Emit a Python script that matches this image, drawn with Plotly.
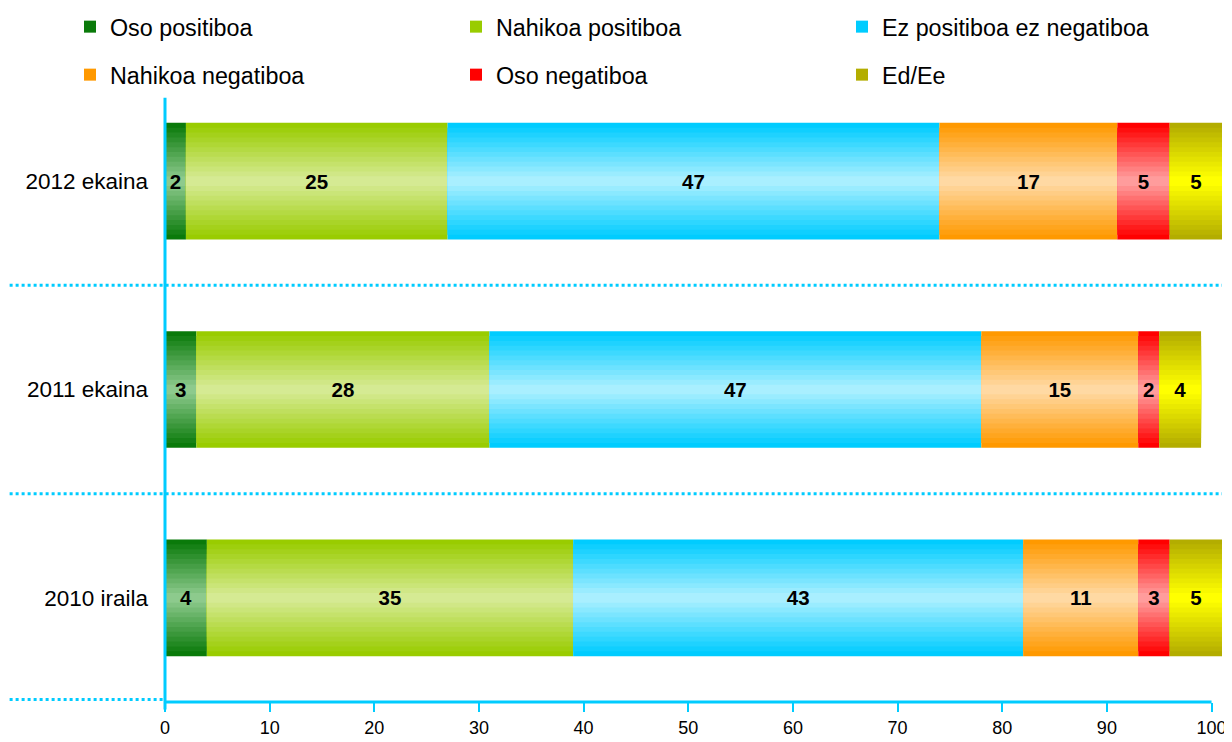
import numpy as np
import plotly.graph_objects as go

# ---------------- data ----------------
categories = ["2012 ekaina", "2011 ekaina", "2010 iraila"]
series_names = ["Oso positiboa", "Nahikoa positiboa", "Ez positiboa ez negatiboa",
                "Nahikoa negatiboa", "Oso negatiboa", "Ed/Ee"]
oso_positiboa = [2, 3, 4]
nahikoa_positiboa = [25, 28, 35]
ez_positiboa_ez_negatiboa = [47, 47, 43]
nahikoa_negatiboa = [17, 15, 11]
oso_negatiboa = [5, 2, 3]
ed_ee = [5, 4, 5]
x_ticks = [0, 10, 20, 30, 40, 50, 60, 70, 80, 90, 100]

series_values = [oso_positiboa, nahikoa_positiboa, ez_positiboa_ez_negatiboa,
                 nahikoa_negatiboa, oso_negatiboa, ed_ee]

# ---------------- style ----------------
# (edge colour, centre colour) for the vertical gradient of each series
gradients = [
    ("#0A7A0A", "#8DCA8D"),
    ("#99CC00", "#D5EA93"),
    ("#00CCFF", "#A9EFFF"),
    ("#FF9900", "#FFD9A3"),
    ("#FF0000", "#FF9C9C"),
    ("#B3AD00", "#FFFF00"),
]
AXIS_COLOR = "#00CCFF"
FONT = "Liberation Sans"
BAR_W = 0.56
N_LAYERS = 12
X_MAX = 101

FIG_W, FIG_H = 1224, 734          # page body adds an 8px margin
# legend positions (figure pixels): left edge x, centre y
legend_pos = [(62, 19), (448, 19), (834, 19),
              (62, 67), (448, 67), (834, 67)]


def hex_to_rgb(h):
    h = h.lstrip("#")
    return tuple(int(h[i:i + 2], 16) for i in (0, 2, 4))


def mix(c1, c2, t):
    a, b = hex_to_rgb(c1), hex_to_rgb(c2)
    r = [round(a[i] + (b[i] - a[i]) * t) for i in range(3)]
    return f"rgb({r[0]},{r[1]},{r[2]})"


fig = go.Figure()

cum = np.zeros(len(categories))
bases = []
for vals in series_values:
    bases.append(cum.copy())
    cum = cum + np.array(vals, dtype=float)

legend_ids = ["legend"] + [f"legend{i}" for i in range(2, 7)]

for si, (name, vals) in enumerate(zip(series_names, series_values)):
    edge, centre = gradients[si]
    for k in range(N_LAYERS):
        t = k / (N_LAYERS - 1)
        w = BAR_W * (1 - k / N_LAYERS)
        fig.add_trace(go.Bar(
            y=categories, x=vals, base=bases[si], orientation="h",
            width=w,
            marker=dict(color=mix(edge, centre, t), line=dict(width=0)),
            name=name,
            showlegend=(k == 0),
            legend=legend_ids[si],
            legendgroup=name,
            hoverinfo="skip",
        ))

# value labels
for si, vals in enumerate(series_values):
    fig.add_trace(go.Bar(
        y=categories, x=vals, base=bases[si], orientation="h",
        width=BAR_W,
        marker=dict(color="rgba(0,0,0,0)", line=dict(width=0)),
        text=[str(v) for v in vals],
        textposition="inside", insidetextanchor="middle",
        constraintext="none",
        textfont=dict(family=FONT, size=20.5, color="black", weight="bold"),
        showlegend=False, hoverinfo="skip",
    ))

shapes = []
# dotted separators between categories
for i in range(len(categories) - 1):
    shapes.append(dict(type="line", xref="paper", yref="y",
                       x0=-0.147, x1=1.0, y0=i + 0.5, y1=i + 0.5,
                       line=dict(color=AXIS_COLOR, width=3, dash="dot")))
shapes.append(dict(type="line", xref="paper", yref="paper",
                   x0=-0.147, x1=0.0, y0=0.004, y1=0.004,
                   line=dict(color=AXIS_COLOR, width=3, dash="dot")))
# x axis line (0..100)
shapes.append(dict(type="line", xref="paper", yref="paper",
                   x0=0, x1=100 / X_MAX, y0=0, y1=0,
                   line=dict(color=AXIS_COLOR, width=3)))
# y axis line
shapes.append(dict(type="line", xref="paper", yref="paper",
                   x0=0, x1=0, y0=-0.012, y1=0.967,
                   line=dict(color=AXIS_COLOR, width=3)))

legend_layout = {}
for lid, (lx, ly) in zip(legend_ids, legend_pos):
    legend_layout[lid] = dict(
        orientation="h", xref="container", yref="container",
        x=lx / FIG_W, y=1 - ly / FIG_H, xanchor="left", yanchor="middle",
        font=dict(family=FONT, size=23.3, color="black"),
        bgcolor="rgba(0,0,0,0)", itemwidth=30)

fig.update_layout(
    width=FIG_W, height=FIG_H,
    margin=dict(l=157, r=10, t=69, b=40, autoexpand=False),
    barmode="overlay",
    paper_bgcolor="white", plot_bgcolor="white",
    font=dict(family=FONT, color="black"),
    showlegend=True,
    xaxis=dict(range=[0, X_MAX], tickvals=x_ticks, ticks="outside", ticklen=9,
               tickcolor=AXIS_COLOR, tickwidth=2, showgrid=False, zeroline=False,
               showline=False, automargin=False,
               tickfont=dict(family=FONT, size=18, color="black")),
    yaxis=dict(type="category", categoryorder="array", categoryarray=categories,
               range=[2.5, -0.5], ticks="", showgrid=False, zeroline=False,
               showline=False, ticklabelstandoff=16, automargin=False,
               tickfont=dict(family=FONT, size=22.5, color="black")),
    shapes=shapes,
    **legend_layout,
)

fig.write_html("out.html")
